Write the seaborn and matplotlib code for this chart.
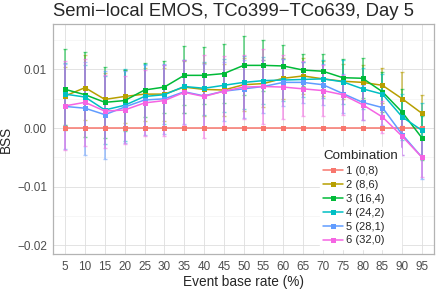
import numpy as np
import pandas as pd
import seaborn as sns
import matplotlib
matplotlib.use("Agg")
import matplotlib.pyplot as plt
from matplotlib.ticker import FuncFormatter, MultipleLocator

rates = [5, 10, 15, 20, 25, 30, 35, 40, 45, 50, 55, 60, 65, 70, 75, 80, 85, 90, 95]
combos = ["1 (0,8)", "2 (8,6)", "3 (16,4)", "4 (24,2)", "5 (28,1)", "6 (32,0)"]
colors = ["#F8766D", "#B79F00", "#00BA38", "#00BFC4", "#619CFF", "#F564E3"]

bss_1 = [0.0] * 19
bss_2 = [0.0055, 0.0069, 0.0049, 0.0054, 0.0058, 0.0058, 0.0070, 0.0066, 0.0065, 0.0074,
         0.0076, 0.0085, 0.0089, 0.0084, 0.0080, 0.0078, 0.0073, 0.0050, 0.0025]
bss_3 = [0.0066, 0.0057, 0.0044, 0.0047, 0.0065, 0.0070, 0.0090, 0.0090, 0.0093, 0.0107,
         0.0107, 0.0106, 0.0099, 0.0097, 0.0086, 0.0085, 0.0062, 0.0027, -0.0017]
bss_4 = [0.0058, 0.0053, 0.0031, 0.0039, 0.0054, 0.0057, 0.0071, 0.0068, 0.0073, 0.0078,
         0.0081, 0.0082, 0.0083, 0.0084, 0.0079, 0.0067, 0.0058, 0.0019, -0.0004]
bss_5 = [0.0037, 0.0034, 0.0023, 0.0036, 0.0048, 0.0050, 0.0062, 0.0055, 0.0063, 0.0067,
         0.0071, 0.0078, 0.0078, 0.0074, 0.0059, 0.0044, 0.0035, -0.0011, -0.0050]
bss_6 = [0.0038, 0.0044, 0.0029, 0.0031, 0.0043, 0.0047, 0.0061, 0.0054, 0.0063, 0.0070,
         0.0071, 0.0070, 0.0067, 0.0064, 0.0057, 0.0040, 0.0019, -0.0014, -0.0050]

# half widths of the error bars
err_1 = [0.0] * 19
err_2 = [0.0050, 0.0055, 0.0045, 0.0045, 0.0045, 0.0045, 0.0045, 0.0045, 0.0045, 0.0045,
         0.0040, 0.0035, 0.0030, 0.0030, 0.0030, 0.0030, 0.0030, 0.0046, 0.0032]
err_3 = [0.0069, 0.0072, 0.0060, 0.0052, 0.0046, 0.0045, 0.0050, 0.0048, 0.0050, 0.0050,
         0.0043, 0.0036, 0.0028, 0.0030, 0.0032, 0.0034, 0.0034, 0.0040, 0.0038]
err_4 = [0.0053, 0.0055, 0.0058, 0.0061, 0.0055, 0.0050, 0.0045, 0.0045, 0.0045, 0.0045,
         0.0040, 0.0036, 0.0030, 0.0032, 0.0037, 0.0035, 0.0035, 0.0040, 0.0047]
err_5 = [0.0073, 0.0079, 0.0075, 0.0062, 0.0060, 0.0060, 0.0055, 0.0055, 0.0050, 0.0050,
         0.0045, 0.0040, 0.0035, 0.0035, 0.0033, 0.0030, 0.0030, 0.0035, 0.0036]
err_6 = [0.0076, 0.0074, 0.0062, 0.0058, 0.0056, 0.0060, 0.0056, 0.0071, 0.0060, 0.0054,
         0.0064, 0.0055, 0.0047, 0.0044, 0.0034, 0.0026, 0.0028, 0.0032, 0.0033]

bss = [bss_1, bss_2, bss_3, bss_4, bss_5, bss_6]
errs = [err_1, err_2, err_3, err_4, err_5, err_6]

df = pd.DataFrame({
    "rate": rates * len(combos),
    "bss": np.concatenate(bss),
    "err": np.concatenate(errs),
    "Combination": np.repeat(combos, len(rates)),
})

sns.set_theme(style="whitegrid")
plt.rcParams["font.family"] = ["Liberation Sans", "DejaVu Sans"]

fig, ax = plt.subplots(figsize=(4.41, 2.89), dpi=100)
fig.subplots_adjust(left=53.3 / 441, right=434 / 441, top=1 - 24.3 / 289, bottom=1 - 254.3 / 289)

for (name, g), col in zip(df.groupby("Combination", sort=False), colors):
    ax.errorbar(g["rate"], g["bss"], yerr=g["err"], fmt="none", ecolor=col,
                alpha=0.55, elinewidth=1.3, capsize=1.5, capthick=1.0, zorder=2)

sns.lineplot(data=df, x="rate", y="bss", hue="Combination", palette=colors,
             marker="s", markersize=3.6, markeredgewidth=0, linewidth=1.1,
             ax=ax, zorder=3)

ax.set_xlim(2, 98)
ax.set_ylim(-0.0215, 0.0177)
ax.set_xticks(rates)
ax.yaxis.set_major_locator(MultipleLocator(0.01))
ax.yaxis.set_minor_locator(MultipleLocator(0.005))
ax.yaxis.set_major_formatter(FuncFormatter(lambda v, p: f"{v:.2f}".replace("-", "\u2212")))

ax.grid(which="major", color="#DEDEDE", linewidth=0.6)
ax.grid(which="minor", axis="y", color="#F0F0F0", linewidth=0.4)
for s in ax.spines.values():
    s.set_color("#B3B3B3")
    s.set_linewidth(0.9)
ax.tick_params(axis="both", which="major", length=3, width=0.6, color="#B3B3B3",
               labelsize=8.5, labelcolor="#4D4D4D", pad=1.5)
ax.tick_params(axis="y", which="minor", length=0)

ax.set_xlabel("Event base rate (%)", fontsize=9.8, labelpad=2)
ax.set_ylabel("BSS", fontsize=9.8, labelpad=3)
ax.set_title("Semi\u2212local EMOS, TCo399\u2212TCo639, Day 5", loc="left",
             fontsize=13.3, pad=6)

leg = ax.legend(title="Combination", loc="lower left", bbox_to_anchor=(0.685, 0.0),
                fontsize=8, title_fontsize=9.6, frameon=True, facecolor="white",
                edgecolor="white", framealpha=1, handlelength=1.8, handletextpad=0.3,
                labelspacing=0.35, borderpad=0.3, alignment="left")
leg.set_zorder(5)

fig.savefig("out.png", dpi=100)
